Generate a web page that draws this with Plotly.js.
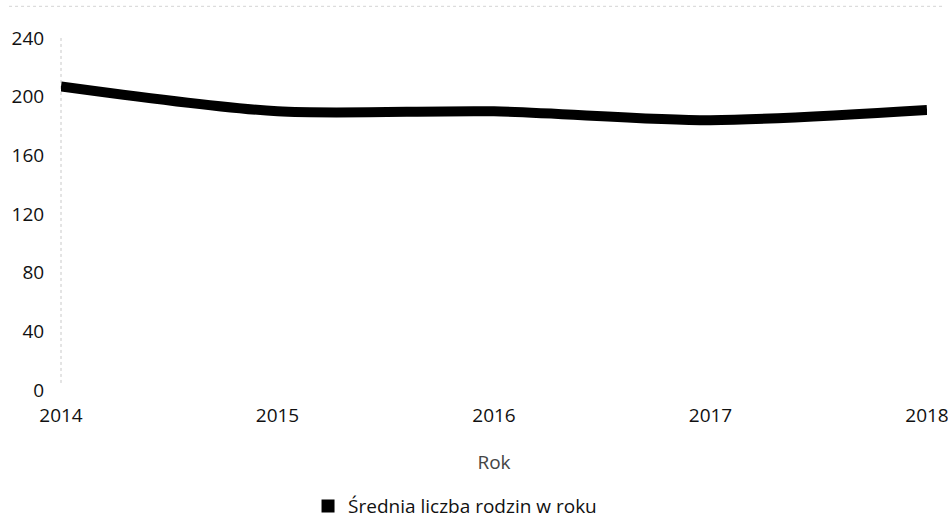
<!DOCTYPE html>
<html>
<head>
<meta charset="utf-8">
<script src="https://cdn.plot.ly/plotly-3.0.1.min.js"></script>
<style>html,body{margin:0;padding:0;background:#fff;}#chart{width:948px;height:521px;}</style>
</head>
<body>
<div id="chart"></div>
<script>
const years = [2014, 2015, 2016, 2017, 2018];
const families = [207, 190, 190, 184, 191];
const seriesName = 'Średnia liczba rodzin w roku';
const yTicks = [0, 40, 80, 120, 160, 200, 240];

const traces = [
  {
    type: 'scatter', mode: 'lines', x: years, y: families,
    line: {color: '#000', width: 10, shape: 'spline', smoothing: 0.8},
    showlegend: false, hoverinfo: 'skip'
  },
  {
    type: 'scatter', mode: 'markers', x: [null], y: [null], name: seriesName,
    marker: {symbol: 'square', color: '#000', size: 13},
    showlegend: true
  }
];

const layout = {
  width: 948, height: 521,
  margin: {l: 61, r: 21, t: 38, b: 131, autoexpand: false},
  paper_bgcolor: '#fff', plot_bgcolor: '#fff',
  font: {family: '"Open Sans", "DejaVu Sans", sans-serif', color: '#111', size: 19},
  xaxis: {
    range: [2014, 2018], tickvals: years, ticktext: years.map(String),
    showgrid: false, zeroline: false, showline: false, automargin: false,
    ticklabeloverflow: 'allow',
    ticks: 'outside', ticklen: 8, tickcolor: 'rgba(0,0,0,0)',
    tickfont: {size: 19, color: '#111'},
    title: {text: 'Rok', font: {size: 19, color: '#444'}, standoff: 28}
  },
  yaxis: {
    range: [0, 240], tickvals: yTicks,
    showgrid: false, zeroline: false, showline: false, automargin: false,
    ticks: 'outside', ticklen: 12, tickcolor: 'rgba(0,0,0,0)',
    tickfont: {size: 19, color: '#111'}
  },
  showlegend: true,
  legend: {
    orientation: 'h', x: 0.455, xanchor: 'center', y: -0.33, yanchor: 'middle',
    font: {size: 19, color: '#111'}, itemwidth: 30
  },
  shapes: [
    {type: 'line', xref: 'paper', yref: 'paper', x0: 0, x1: 0, y0: 0.02, y1: 1,
     line: {color: '#c8c8c8', width: 1, dash: 'dot'}, layer: 'below'},
    {type: 'line', xref: 'paper', yref: 'paper', x0: -0.06, x1: 1.02, y0: 1.09, y1: 1.09,
     line: {color: '#d4d4d4', width: 1, dash: 'dot'}, layer: 'below'}
  ]
};

Plotly.newPlot('chart', traces, layout, {displayModeBar: false, staticPlot: true});
</script>
</body>
</html>
